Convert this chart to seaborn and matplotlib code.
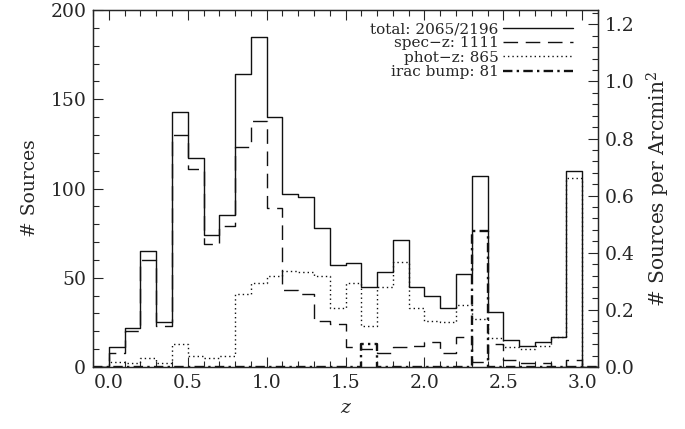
import matplotlib
matplotlib.use("Agg")
import numpy as np
import pandas as pd
import matplotlib.pyplot as plt
import seaborn as sns
from matplotlib.ticker import MultipleLocator, FormatStrFormatter

# ---- data (bin lower edges, width 0.1) ----
z_lo = [0.0, 0.1, 0.2, 0.3, 0.4, 0.5, 0.6, 0.7, 0.8, 0.9,
        1.0, 1.1, 1.2, 1.3, 1.4, 1.5, 1.6, 1.7, 1.8, 1.9,
        2.0, 2.1, 2.2, 2.3, 2.4, 2.5, 2.6, 2.7, 2.8, 2.9]
total = [11, 22, 65, 25, 143, 117, 74, 85, 164, 185,
         140, 97, 95, 78, 57, 58, 45, 53, 71, 45,
         40, 33, 52, 107, 31, 15, 12, 14, 17, 110]
spec = [8, 20, 60, 23, 130, 111, 69, 79, 123, 138,
        89, 43, 41, 26, 24, 11, 10, 8, 11, 12,
        14, 8, 17, 3, 13, 4, 2, 2, 0, 4]
phot = [3, 2, 5, 2, 13, 6, 5, 6, 41, 47,
        51, 54, 53, 51, 33, 47, 23, 45, 59, 33,
        26, 25, 35, 27, 16, 11, 10, 12, 17, 106]
irac = [0, 0, 0, 0, 0, 0, 0, 0, 0, 0,
        0, 0, 0, 0, 0, 0, 13, 0, 0, 0,
        0, 0, 0, 76, 0, 0, 0, 0, 0, 0]
labels = ["total: 2065/2196", "spec\u2212z: 1111", "phot\u2212z: 865", "irac bump: 81"]
bin_width = 0.1
area_arcmin2 = 160.0

sns.set_style("ticks")
plt.rcParams["font.family"] = ["DejaVu Serif"]
plt.rcParams["mathtext.fontset"] = "dejavuserif"

fig = plt.figure(figsize=(6.85, 4.29), dpi=100)
ax = fig.add_axes([0.136, 0.1445, 0.737, 0.8322])

# pad with an empty bin on each side so the steps run along the baseline
lo = [z_lo[0] - bin_width] + z_lo + [z_lo[-1] + bin_width]
centers = [v + bin_width / 2 for v in lo]
nbins = len(lo)
brange = (lo[0], lo[-1] + bin_width)

ink = "#111111"
styles = [
    dict(linewidth=1.0, linestyle="-"),
    dict(linewidth=1.0, dashes=(10.5, 5.5)),
    dict(linewidth=1.0, dashes=(1, 2.2)),
    dict(linewidth=1.7, dashes=(4, 1.8, 1, 1.8)),
]
handles = []
for vals, st in zip([total, spec, phot, irac], styles):
    df = pd.DataFrame({"z": centers, "n": [0] + list(vals) + [0]})
    sns.histplot(data=df, x="z", weights="n", bins=nbins, binrange=brange,
                 element="step", fill=False, color=ink, ax=ax, **st)
    handles.append(ax.lines[-1])

ax.set_xlim(-0.1, 3.1)
ax.set_ylim(0, 200)
ax.xaxis.set_major_locator(MultipleLocator(0.5))
ax.xaxis.set_minor_locator(MultipleLocator(0.1))
ax.yaxis.set_major_locator(MultipleLocator(50))
ax.yaxis.set_minor_locator(MultipleLocator(10))
ax.xaxis.set_major_formatter(FormatStrFormatter("%.1f"))
ax.tick_params(axis="x", which="both", direction="in", top=True, bottom=True,
               labelsize=13.5, pad=5, width=0.8)
ax.tick_params(axis="y", which="both", direction="in", left=True, right=False,
               labelsize=13.5, pad=5, width=0.8)
ax.tick_params(which="major", length=7.5)
ax.tick_params(which="minor", length=4)
ax.set_xlabel("z", fontsize=13.5, style="italic", labelpad=5)
ax.set_ylabel("# Sources", fontsize=13.5, labelpad=8)
for s in ax.spines.values():
    s.set_linewidth(0.9)

ax2 = ax.twinx()
ax2.set_ylim(0, 200 / area_arcmin2)
ax2.yaxis.set_major_locator(MultipleLocator(0.2))
ax2.yaxis.set_minor_locator(MultipleLocator(0.04))
ax2.yaxis.set_major_formatter(FormatStrFormatter("%.1f"))
ax2.tick_params(axis="y", which="both", direction="in", right=True, labelsize=13.5,
                pad=5, width=0.8)
ax2.tick_params(which="major", length=7.5)
ax2.tick_params(which="minor", length=4)
ax2.set_ylabel("# Sources per Arcmin$^2$", fontsize=14.5, labelpad=7)
for s in ax2.spines.values():
    s.set_linewidth(0.9)

leg = ax.legend(handles, labels, loc="upper right", bbox_to_anchor=(0.951, 0.966),
                frameon=False, markerfirst=False, fontsize=11, handlelength=4.6,
                handletextpad=0.3, labelspacing=0.02, borderpad=0, borderaxespad=0)

fig.savefig("out.png", dpi=100)
